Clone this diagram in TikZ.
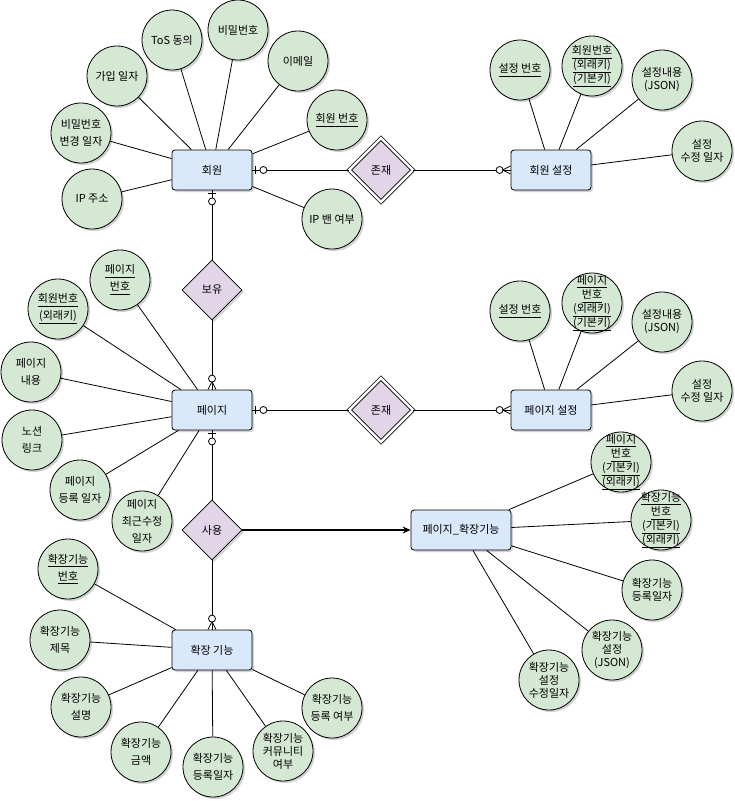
\documentclass[tikz,border=0pt]{standalone}
\usepackage{fontspec}
\setmainfont{Noto Sans CJK KR}
\usetikzlibrary{
	positioning
	,shapes.geometric
	,shadows
	,arrows.meta
	,decorations.markings
}
\definecolor{entityfill}{HTML}{DAE8FC}
\definecolor{attrfill}{HTML}{D5E8D4}
\definecolor{relfill}{HTML}{E1D5E7}
\newcommand{\keyul}[1]{\underline{\vphantom{()}#1}}
\tikzset{
	shade box/.style={
		drop shadow={shadow xshift=2pt, shadow yshift=-2pt, fill=black!35}
	},
	entity/.style={
		draw, rectangle, rounded corners=3pt, fill=entityfill, shade box,
		minimum width=80pt, minimum height=40pt, inner sep=0pt,
		font=\fontsize{11}{13}\selectfont
	},
	relation/.style={
		draw, diamond, aspect=1, fill=relfill, shade box,
		minimum width=60pt, minimum height=60pt, inner sep=0pt,
		font=\fontsize{11}{13}\selectfont
	},
	weak relation/.style={
		relation, double, double distance=2.5pt,
		minimum width=64pt, minimum height=64pt
	},
	attr circle/.style={
		draw, circle, fill=attrfill, shade box,
		minimum size=60pt, inner sep=0pt
	},
	attr text/.style={
		align=center, inner sep=0pt, font=\fontsize{11}{17}\selectfont
	},
	attr/.style={
		attr circle, label={[attr text]center:#1}
	},
	attr tight/.style={
		attr circle, label={[attr text, font=\fontsize{11}{13}\selectfont]center:#1}
	},
	opt one/.style={
		postaction={decorate, decoration={markings,
			mark=at position 3pt with {\draw (0,-4pt) -- (0,4pt);},
			mark=at position 11pt with {\draw[fill=white] (0,0) circle (3.5pt);}
		}}
	},
	opt many/.style={
		postaction={decorate, decoration={markings,
			mark=at position -11pt with {\draw[fill=white] (0,0) circle (3.5pt);},
			mark=at position -0.1pt with {\draw (-8pt,0) -- (0,4pt) (-8pt,0) -- (0,-4pt);}
		}}
	}
}

\begin{document}
\begin{tikzpicture}[x=1pt, y=-1pt, line width=0.8pt]
\useasboundingbox (0,0) rectangle (735,801);

% entities
\node[entity] (member) at (212,170) {회원};
\node[entity] (memberset) at (551,170) {회원 설정};
\node[entity] (page) at (212,410) {페이지};
\node[entity] (pageset) at (551,410) {페이지 설정};
\node[entity, minimum width=100pt] (pageext) at (461,530) {페이지\_확장기능};
\node[entity] (ext) at (212,650) {확장 기능};

% relations
\node[weak relation] (exist1) at (381,170) {존재};
\node[relation] (own) at (212,290) {보유};
\node[weak relation] (exist2) at (381,410) {존재};
\node[relation] (use) at (212,530) {사용};

% 회원
\node[attr={가입 일자}] (joindate) at (117,76) {};
\node[attr={ToS 동의}] (tos) at (172,40) {};
\node[attr={비밀번호}] (pw) at (238,30) {};
\node[attr={이메일}] (email) at (298,61) {};
\node[attr={\keyul{회원 번호}}] (memberno) at (337,120) {};
\node[attr={비밀번호\\변경 일자}] (pwdate) at (81,133) {};
\node[attr={IP 주소}] (ip) at (92,199) {};
\node[attr={IP 밴 여부}] (ipban) at (332,219) {};

% 회원 설정
\node[attr tight={\keyul{설정 번호}}] (msno) at (520,70) {};
\node[attr tight={\keyul{회원번호}\\\keyul{(외래키)}\\\keyul{(기본키)}}] (msmember) at (592,66) {};
\node[attr tight={설정내용\\(JSON)}] (mscontent) at (662,80) {};
\node[attr tight={설정\\수정 일자}] (msdate) at (702,151) {};

% 페이지
\node[attr={\keyul{페이지}\\\keyul{번호}}] (pageno) at (120,280) {};
\node[attr={\keyul{회원번호}\\\keyul{(외래키)}}] (pagemember) at (58,309) {};
\node[attr={페이지\\내용}] (pagecontent) at (31,372) {};
\node[attr={노션\\링크}] (notion) at (32,440) {};
\node[attr={페이지\\등록 일자}] (pagedate) at (80,490) {};
\node[attr={페이지\\최근수정\\일자}] (pagemod) at (142,521) {};

% 페이지 설정
\node[attr tight={\keyul{설정 번호}}] (psno) at (520,311) {};
\node[attr tight={\keyul{페이지}\\\keyul{번호}\\\keyul{(외래키)}\\\keyul{(기본키)}}] (pspage) at (592,303) {};
\node[attr tight={설정내용\\(JSON)}] (pscontent) at (662,322) {};
\node[attr tight={설정\\수정 일자}] (psdate) at (702,391) {};

% 페이지_확장기능
\node[attr tight={\keyul{페이지}\\\keyul{번호}\\\keyul{(기본키)}\\\keyul{(외래키)}}] (pepage) at (621,462) {};
\node[attr tight={\keyul{확장기능}\\\keyul{번호}\\\keyul{(기본키)}\\\keyul{(외래키)}}] (peext) at (661,520) {};
\node[attr tight={확장기능\\등록일자}] (pedate) at (652,590) {};
\node[attr tight={확장기능\\설정\\(JSON)}] (peconf) at (612,650) {};
\node[attr tight={확장기능\\설정\\수정일자}] (pemod) at (549,680) {};

% 확장 기능
\node[attr={\keyul{확장기능}\\\keyul{번호}}] (extno) at (68,569) {};
\node[attr={확장기능\\제목}] (exttitle) at (60,640) {};
\node[attr={확장기능\\설명}] (extdesc) at (81,707) {};
\node[attr={확장기능\\금액}] (extprice) at (141,752) {};
\node[attr={확장기능\\등록일자}] (extdate) at (213,767) {};
\node[attr tight={확장기능\\커뮤니티\\여부}] (extcomm) at (283,751) {};
\node[attr={확장기능\\등록 여부}] (extreg) at (332,708) {};

\foreach \a/\e in {%
joindate/member, tos/member, pw/member, email/member%
,memberno/member, pwdate/member, ip/member, ipban/member%
,msno/memberset, msmember/memberset, mscontent/memberset, msdate/memberset%
,pageno/page, pagemember/page, pagecontent/page, notion/page%
,pagedate/page, pagemod/page%
,psno/pageset, pspage/pageset, pscontent/pageset, psdate/pageset%
,pepage/pageext, peext/pageext, pedate/pageext, peconf/pageext, pemod/pageext%
,extno/ext, exttitle/ext, extdesc/ext, extprice/ext%
,extdate/ext, extcomm/ext, extreg/ext%
}{
	\draw (\a) -- (\e);
}

\draw[opt one] (member) -- (exist1);
\draw[opt many] (exist1) -- (memberset);
\draw[opt one] (member) -- (own);
\draw[opt many] (own) -- (page);
\draw[opt one] (page) -- (exist2);
\draw[opt many] (exist2) -- (pageset);
\draw[opt one] (page) -- (use);
\draw[opt many] (use) -- (ext);
\draw[-{Stealth[length=8pt,width=7pt]}, line width=1.1pt] (use) -- (pageext);
\end{tikzpicture}
\end{document}
